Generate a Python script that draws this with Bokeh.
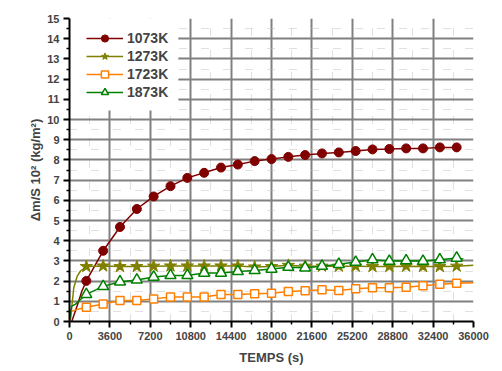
from bokeh.plotting import figure
from bokeh.models import Range1d, FixedTicker, Legend, LegendItem, BoxAnnotation
from bokeh.embed import file_html
from bokeh.resources import INLINE

# ---- data ----
x_ticks = [0, 3600, 7200, 10800, 14400, 18000, 21600, 25200, 28800, 32400, 36000]
x_minor = [1800, 5400, 9000, 12600, 16200, 19800, 23400, 27000, 30600, 34200]
y_ticks = list(range(0, 16))
y_minor = [0.5, 1.5, 2.5, 3.5, 4.5, 5.5, 6.5, 7.5, 8.5, 9.5, 10.5, 11.5, 12.5, 13.5, 14.5]

t_mark = [1500, 3000, 4500, 6000, 7500, 9000, 10500, 12000, 13500, 15000, 16500, 18000,
          19500, 21000, 22500, 24000, 25500, 27000, 28500, 30000, 31500, 33000, 34500]

# 1073K
t1073_start = [200, 700, 1100]
v1073_start = [0.0, 0.8, 1.5]
v1073 = [2.01, 3.50, 4.68, 5.57, 6.19, 6.70, 7.11, 7.36, 7.62, 7.77, 7.94, 8.04,
         8.15, 8.24, 8.32, 8.37, 8.44, 8.52, 8.54, 8.57, 8.57, 8.62, 8.62]
t1073_end = []
v1073_end = []

# 1273K
t1273_start = [90, 380, 690, 980]
v1273_start = [0.1, 1.67, 2.25, 2.5]
v1273 = [2.72, 2.75, 2.72, 2.72, 2.74, 2.75, 2.75, 2.75, 2.75, 2.75, 2.70, 2.72,
         2.78, 2.74, 2.74, 2.74, 2.74, 2.72, 2.72, 2.74, 2.72, 2.72, 2.74]
t1273_end = [36000]
v1273_end = [2.78]

# 1723K
t1723_start = [50, 150, 700]
v1723_start = [0.1, 0.5, 0.6]
v1723 = [0.71, 0.87, 1.04, 1.04, 1.12, 1.21, 1.21, 1.21, 1.34, 1.34, 1.37, 1.40,
         1.49, 1.52, 1.57, 1.54, 1.62, 1.67, 1.67, 1.70, 1.77, 1.84, 1.89]
t1723_end = [36000]
v1723_end = [1.92]

# 1873K
t1873_start = [30, 180, 540, 980]
v1873_start = [0.1, 0.75, 0.86, 1.09]
v1873 = [1.34, 1.74, 1.97, 2.06, 2.20, 2.28, 2.28, 2.40, 2.40, 2.48, 2.53, 2.60,
         2.69, 2.66, 2.74, 2.83, 2.94, 3.06, 2.99, 3.01, 2.99, 3.06, 3.14]
t1873_end = [35100]
v1873_end = [3.1]

labels = ["1073K", "1273K", "1723K", "1873K"]
colors = ["#800000", "#808000", "#FF8000", "#008000"]

FONT = "Liberation Sans"

p = figure(frame_width=404, frame_height=303, output_backend="svg", toolbar_location=None,
           x_range=Range1d(0, 36000), y_range=Range1d(0, 15),
           min_border_left=69, min_border_right=28, min_border_top=18, min_border_bottom=49)
p.outline_line_color = None
p.background_fill_color = "white"

p.xaxis.ticker = FixedTicker(ticks=x_ticks, minor_ticks=x_minor)
p.yaxis.ticker = FixedTicker(ticks=y_ticks, minor_ticks=y_minor)

for ax in (p.xaxis, p.yaxis):
    ax.axis_line_width = 2
    ax.axis_line_color = "black"
    ax.major_tick_out = 6
    ax.major_tick_in = 0
    ax.minor_tick_out = 3
    ax.minor_tick_in = 0
    ax.major_tick_line_width = 2
    ax.minor_tick_line_width = 1.5
    ax.major_label_text_font = FONT
    ax.major_label_text_font_style = "bold"
    ax.major_label_text_font_size = "11px"
    ax.major_label_standoff = 4
    ax.axis_label_text_font = FONT
    ax.axis_label_text_font_style = "bold"
    ax.axis_label_text_font_size = "13px"

p.xaxis.axis_label = "TEMPS (s)"
p.yaxis.axis_label = "Δm/S 10² (kg/m²)"
p.xaxis.axis_label_standoff = 7
p.yaxis.axis_label_standoff = 1

for g in (p.xgrid, p.ygrid):
    g.grid_line_color = "#808080"
    g.grid_line_width = 2
    g.minor_grid_line_color = "#C0C0C0"
    g.minor_grid_line_width = 1
    g.minor_grid_line_dash = "1 1 1 1 1 1 1 15"

# white background behind the legend area (hides the grid there, as in the original)
p.add_layout(BoxAnnotation(left=0, right=9700, bottom=10.45, top=15.2,
                           fill_color="white", fill_alpha=1.0, line_color=None,
                           level="underlay"))

series = [
    (t1073_start, v1073_start, v1073, t1073_end, v1073_end, "circle", 9, True),
    (t1273_start, v1273_start, v1273, t1273_end, v1273_end, "star", 13, True),
    (t1723_start, v1723_start, v1723, t1723_end, v1723_end, "square", 8, False),
    (t1873_start, v1873_start, v1873, t1873_end, v1873_end, "triangle", 11, False),
]

renderers = []
for (ts, vs, vm, te, ve, mk, sz, filled), lab, col in zip(series, labels, colors):
    lx = ts + t_mark + te
    ly = vs + vm + ve
    ln = p.line(lx, ly, line_color=col, line_width=1.5)
    if filled:
        sc = p.scatter(t_mark, vm, marker=mk, size=sz, fill_color=col, line_color=col, line_width=1)
    else:
        sc = p.scatter(t_mark, vm, marker=mk, size=sz, fill_color="white", line_color=col, line_width=1.5)
    renderers.append((lab, [ln, sc]))

legend = Legend(items=[LegendItem(label=l, renderers=r) for l, r in renderers],
                location=(17, 220), padding=0, margin=0, spacing=0,
                glyph_width=37, glyph_height=18, label_height=18, label_standoff=4,
                label_text_font=FONT, label_text_font_style="bold", label_text_font_size="14px",
                background_fill_color="white", background_fill_alpha=0.0,
                border_line_color=None)
p.add_layout(legend, "center")

open("out.html", "w").write(file_html(p, INLINE))
